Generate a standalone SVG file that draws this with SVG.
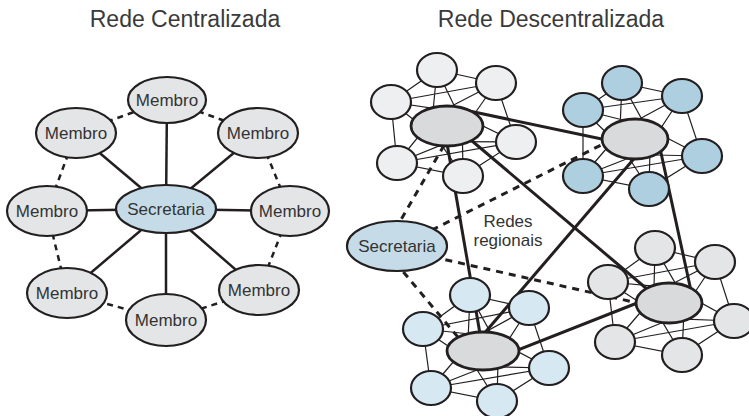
<svg xmlns="http://www.w3.org/2000/svg" width="749" height="416" viewBox="0 0 749 416">
<style>
.t{font-family:"Liberation Sans",Arial,Helvetica,sans-serif;fill:#333;text-anchor:middle}
.ttl{font-size:23px;fill:#3a3a3a}
.lbl{font-size:17px}
.n{stroke:#231f20;stroke-width:2.2}
.h{stroke:#231f20;stroke-width:2.8;fill:#d9dadc}
.gray{fill:#e4e5e7}
.blue{fill:#c5dce8}
.a{fill:#eeeff1}
.b{fill:#aecfe0}
.c{fill:#e4e5e7}
.d{fill:#d6e8f1}
.s{stroke:#231f20;stroke-width:2.5;fill:none}
.ds{stroke:#231f20;stroke-width:2.5;stroke-dasharray:6 5;fill:none}
.tk{stroke:#231f20;stroke-width:3;fill:none}
.dk{stroke:#231f20;stroke-width:3;stroke-dasharray:7 6;fill:none}
.th{stroke:#231f20;stroke-width:1.2;fill:none}
</style>
<rect width="749" height="416" fill="#fff"/>
<text class="t ttl" x="185" y="27">Rede Centralizada</text>
<text class="t ttl" x="551" y="27">Rede Descentralizada</text>

<g id="connectors">
  <!-- left: spokes -->
  <line class="s" x1="166" y1="209" x2="167" y2="100"/>
  <line class="s" x1="166" y1="209" x2="76" y2="133"/>
  <line class="s" x1="166" y1="209" x2="258" y2="133"/>
  <line class="s" x1="166" y1="209" x2="47" y2="211"/>
  <line class="s" x1="166" y1="209" x2="290" y2="211"/>
  <line class="s" x1="166" y1="209" x2="67" y2="293"/>
  <line class="s" x1="166" y1="209" x2="259" y2="290"/>
  <line class="s" x1="166" y1="209" x2="166" y2="320"/>
  <!-- left: ring -->
  <line class="ds" x1="76" y1="133" x2="167" y2="100"/>
  <line class="ds" x1="167" y1="100" x2="258" y2="133"/>
  <line class="ds" x1="258" y1="133" x2="290" y2="211"/>
  <line class="ds" x1="290" y1="211" x2="259" y2="290"/>
  <line class="ds" x1="259" y1="290" x2="166" y2="320"/>
  <line class="ds" x1="166" y1="320" x2="67" y2="293"/>
  <line class="ds" x1="67" y1="293" x2="47" y2="211"/>
  <line class="ds" x1="47" y1="211" x2="76" y2="133"/>

  <!-- right: dashed from Secretaria -->
  <line class="dk" x1="395" y1="230" x2="450" y2="135"/>
  <line class="dk" x1="420" y1="236" x2="625" y2="133"/>
  <line class="dk" x1="420" y1="254" x2="660" y2="308"/>
  <line class="dk" x1="395" y1="262" x2="462" y2="342"/>

  <!-- right: thick hub links -->
  <line class="tk" x1="455" y1="108" x2="635" y2="146"/>
  <line class="tk" x1="465" y1="135" x2="660" y2="300"/>
  <line class="tk" x1="444" y1="126" x2="483" y2="351"/>
  <line class="tk" x1="650" y1="140" x2="470" y2="350"/>
  <line class="tk" x1="658" y1="139" x2="693" y2="300"/>
  <line class="tk" x1="490" y1="361" x2="660" y2="294"/>

  <!-- cluster A mesh -->
  <path class="th" d="M437 70L496 83L516 142L463 176L397 163L391 102Z M391 102L496 83 M397 163L516 142
  M437 70L431.3 128.8 M437 70L462.7 123.2
  M496 83L436.4 114 M496 83L457.6 138
  M516 142L450.6 110.4 M516 142L443.4 141.6
  M463 176L462.2 121.1 M463 176L431.8 130.9
  M397 163L456.5 138.9 M397 163L437.5 113.1
  M391 102L440.7 140.7 M391 102L453.3 111.3"/>
  <!-- cluster B mesh -->
  <path class="th" d="M622 83L682 96L702 156L649 189L583 176L583 110Z M583 110L682 96 M583 176L702 156
  M622 83L619.4 142.6 M622 83L650.6 135.4
  M682 96L624.2 127.2 M682 96L645.8 150.8
  M702 156L638.9 123.5 M702 156L631.1 154.5
  M649 189L650.4 134.7 M649 189L619.6 143.3
  M583 176L644.3 152 M583 176L625.7 126
  M583 110L627.2 153 M583 110L642.8 125"/>
  <!-- cluster C mesh -->
  <path class="th" d="M655 248L715 262L734 321L682 355L615 342L608 282Z M608 282L715 262 M615 342L734 321
  M655 248L653.5 306.9 M655 248L684.5 299.1
  M715 262L658.3 291 M715 262L679.7 315
  M734 321L673.3 287.6 M734 321L664.7 318.4
  M682 355L684.5 299.1 M682 355L653.5 306.9
  M615 342L678.4 316 M615 342L659.6 290
  M608 282L663.8 318.1 M608 282L674.2 287.9"/>
  <!-- cluster D mesh -->
  <path class="th" d="M470 295L529 308L549 368L497 401L431 388L423 329Z M423 329L529 308 M431 388L549 368
  M470 295L467.4 354.6 M470 295L498.6 347.4
  M529 308L472.1 339.3 M529 308L493.9 362.7
  M549 368L487 335.5 M549 368L479 366.5
  M497 401L498.4 346.7 M497 401L467.6 355.3
  M431 388L492.3 364 M431 388L473.7 338
  M423 329L477.5 366 M423 329L488.5 336"/>
</g>

<!-- left diagram nodes -->
<g id="secretaria-central">
  <ellipse class="n blue" cx="166" cy="209" rx="50" ry="24" stroke-width="2.8"/>
  <text class="t lbl" x="166" y="215">Secretaria</text>
</g>
<g id="membro-top"><ellipse class="n gray" cx="167" cy="100" rx="39" ry="23"/><text class="t lbl" x="167" y="106">Membro</text></g>
<g id="membro-topleft"><ellipse class="n gray" cx="76" cy="133" rx="40" ry="25"/><text class="t lbl" x="76" y="139">Membro</text></g>
<g id="membro-topright"><ellipse class="n gray" cx="258" cy="133" rx="40" ry="25"/><text class="t lbl" x="258" y="139">Membro</text></g>
<g id="membro-left"><ellipse class="n gray" cx="47" cy="211" rx="40" ry="25"/><text class="t lbl" x="47" y="217">Membro</text></g>
<g id="membro-right"><ellipse class="n gray" cx="290" cy="211" rx="39" ry="25"/><text class="t lbl" x="290" y="217">Membro</text></g>
<g id="membro-bottomleft"><ellipse class="n gray" cx="67" cy="293" rx="40" ry="25"/><text class="t lbl" x="67" y="299">Membro</text></g>
<g id="membro-bottomright"><ellipse class="n gray" cx="259" cy="290" rx="40" ry="25"/><text class="t lbl" x="259" y="296">Membro</text></g>
<g id="membro-bottom"><ellipse class="n gray" cx="166" cy="320" rx="40" ry="26"/><text class="t lbl" x="166" y="326">Membro</text></g>

<!-- right diagram -->
<g id="secretaria-descentral">
  <ellipse class="n blue" cx="397" cy="246" rx="50" ry="25" stroke-width="2.8"/>
  <text class="t lbl" x="397" y="252">Secretaria</text>
</g>
<g id="redes-regionais-label">
  <text class="t lbl" x="508" y="227">Redes</text>
  <text class="t lbl" x="508" y="246">regionais</text>
</g>

<g id="cluster-a">
  <ellipse class="n a" cx="437" cy="70" rx="20" ry="17"/>
  <ellipse class="n a" cx="496" cy="83" rx="20" ry="17"/>
  <ellipse class="n a" cx="516" cy="142" rx="20" ry="17"/>
  <ellipse class="n a" cx="463" cy="176" rx="20" ry="17"/>
  <ellipse class="n a" cx="397" cy="163" rx="20" ry="17"/>
  <ellipse class="n a" cx="391" cy="102" rx="20" ry="17"/>
  <ellipse class="h" cx="447" cy="126" rx="36" ry="20"/>
</g>
<g id="cluster-b">
  <ellipse class="n b" cx="622" cy="83" rx="20" ry="17"/>
  <ellipse class="n b" cx="682" cy="96" rx="20" ry="17"/>
  <ellipse class="n b" cx="702" cy="156" rx="20" ry="17"/>
  <ellipse class="n b" cx="649" cy="189" rx="20" ry="17"/>
  <ellipse class="n b" cx="583" cy="176" rx="20" ry="17"/>
  <ellipse class="n b" cx="583" cy="110" rx="20" ry="17"/>
  <ellipse class="h" cx="635" cy="139" rx="33" ry="20"/>
</g>
<g id="cluster-c">
  <ellipse class="n c" cx="655" cy="248" rx="20" ry="17"/>
  <ellipse class="n c" cx="715" cy="262" rx="20" ry="17"/>
  <ellipse class="n c" cx="734" cy="321" rx="20" ry="17"/>
  <ellipse class="n c" cx="682" cy="355" rx="20" ry="17"/>
  <ellipse class="n c" cx="615" cy="342" rx="20" ry="17"/>
  <ellipse class="n c" cx="608" cy="282" rx="20" ry="17"/>
  <ellipse class="h" cx="669" cy="303" rx="33" ry="20"/>
</g>
<g id="cluster-d">
  <ellipse class="n d" cx="470" cy="295" rx="20" ry="17"/>
  <ellipse class="n d" cx="529" cy="308" rx="20" ry="17"/>
  <ellipse class="n d" cx="549" cy="368" rx="20" ry="17"/>
  <ellipse class="n d" cx="497" cy="401" rx="20" ry="17"/>
  <ellipse class="n d" cx="431" cy="388" rx="20" ry="17"/>
  <ellipse class="n d" cx="423" cy="329" rx="20" ry="17"/>
  <ellipse class="h" cx="483" cy="351" rx="36" ry="19"/>
</g>
</svg>
